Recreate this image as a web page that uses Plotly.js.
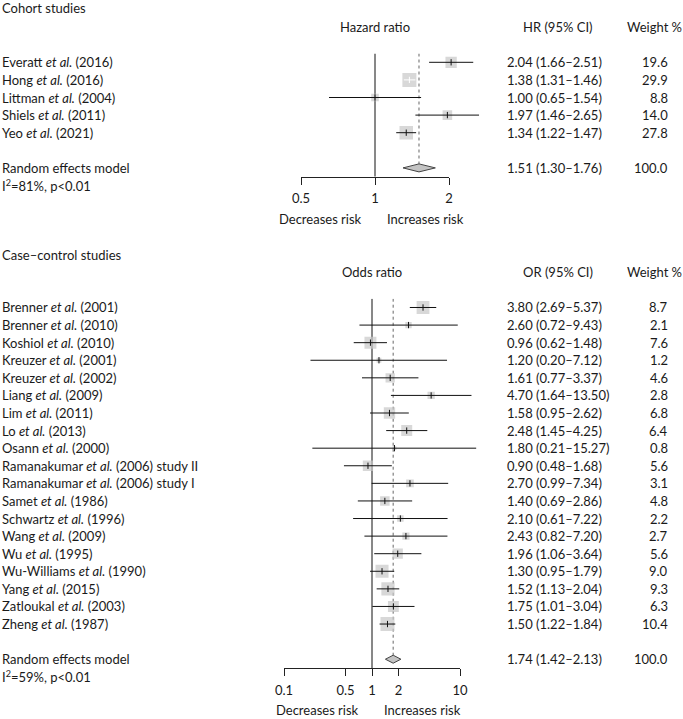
<!DOCTYPE html>
<html>
<head>
<meta charset="utf-8">
<script src="https://cdn.plot.ly/plotly-3.0.1.min.js"></script>
<style>html,body{margin:0;padding:0;background:#fff;}#chart{width:683px;height:719px;}</style>
</head>
<body>
<div id="chart"></div>
<script>
// ---------------- DATA ----------------
const cohortStudies = [
  "Everatt <i>et al.</i> (2016)",
  "Hong <i>et al.</i> (2016)",
  "Littman <i>et al.</i> (2004)",
  "Shiels <i>et al.</i> (2011)",
  "Yeo <i>et al.</i> (2021)"
];
const cohortEst    = [2.04, 1.38, 1.00, 1.97, 1.34];
const cohortLower  = [1.66, 1.31, 0.65, 1.46, 1.22];
const cohortUpper  = [2.51, 1.46, 1.54, 2.65, 1.47];
const cohortWeight = [19.6, 29.9, 8.8, 14.0, 27.8];
const cohortPooled = [1.51, 1.30, 1.76];   // estimate, lower, upper
const cohortPooledWeight = 100.0;
const cohortHet = "I<sup>2</sup>=81%, p&lt;0.01";
const cohortTicks = [0.5, 1, 2];
const cohortTickLabels = ["0.5", "1", "2"];

const ccStudies = [
  "Brenner <i>et al.</i> (2001)",
  "Brenner <i>et al.</i> (2010)",
  "Koshiol <i>et al.</i> (2010)",
  "Kreuzer <i>et al.</i> (2001)",
  "Kreuzer <i>et al.</i> (2002)",
  "Liang <i>et al.</i> (2009)",
  "Lim <i>et al.</i> (2011)",
  "Lo <i>et al.</i> (2013)",
  "Osann <i>et al.</i> (2000)",
  "Ramanakumar <i>et al.</i> (2006) study II",
  "Ramanakumar <i>et al.</i> (2006) study I",
  "Samet <i>et al.</i> (1986)",
  "Schwartz <i>et al.</i> (1996)",
  "Wang <i>et al.</i> (2009)",
  "Wu <i>et al.</i> (1995)",
  "Wu-Williams <i>et al.</i> (1990)",
  "Yang <i>et al.</i> (2015)",
  "Zatloukal <i>et al.</i> (2003)",
  "Zheng <i>et al.</i> (1987)"
];
const ccEst    = [3.80, 2.60, 0.96, 1.20, 1.61, 4.70, 1.58, 2.48, 1.80, 0.90, 2.70, 1.40, 2.10, 2.43, 1.96, 1.30, 1.52, 1.75, 1.50];
const ccLower  = [2.69, 0.72, 0.62, 0.20, 0.77, 1.64, 0.95, 1.45, 0.21, 0.48, 0.99, 0.69, 0.61, 0.82, 1.06, 0.95, 1.13, 1.01, 1.22];
const ccUpper  = [5.37, 9.43, 1.48, 7.12, 3.37, 13.50, 2.62, 4.25, 15.27, 1.68, 7.34, 2.86, 7.22, 7.20, 3.64, 1.79, 2.04, 3.04, 1.84];
const ccWeight = [8.7, 2.1, 7.6, 1.2, 4.6, 2.8, 6.8, 6.4, 0.8, 5.6, 3.1, 4.8, 2.2, 2.7, 5.6, 9.0, 9.3, 6.3, 10.4];
const ccPooled = [1.74, 1.42, 2.13];
const ccPooledWeight = 100.0;
const ccHet = "I<sup>2</sup>=59%, p&lt;0.01";
const ccTicks = [0.1, 0.5, 1, 2, 10];
const ccTickLabels = ["0.1", "0.5", "1", "2", "10"];

// ---------------- STYLE / LAYOUT ----------------
const W = 683, H = 719;
const FONT = "Lato, 'Open Sans', sans-serif";
const FS = 13;
const TXT = "#1a1a1a";
const BOX = "#c8c8c8";
const MAXBOX = 14;       // px side of largest box
const DIAM_HALF = 4;     // px half height of diamond

const traces = [];
const annotations = [];
const layout = {
  width: W, height: H,
  margin: {l: 0, r: 0, t: 0, b: 0},
  paper_bgcolor: "#fff", plot_bgcolor: "rgba(0,0,0,0)",
  showlegend: false,
  font: {family: FONT, size: FS, color: TXT},
  annotations: annotations
};

function L10(v) { return Math.log10(v); }

function panel(cfg) {
  const n = cfg.studies.length;
  const rowPx = (cfg.axisPx - cfg.topPx) / (n + 2);   // rows 0.5 .. n+2.5
  const rowToPx = r => cfg.topPx + (r - 0.5) * rowPx;
  const scale = (cfg.visPx[1] - cfg.visPx[0]) / (L10(cfg.visRange[1]) - L10(cfg.visRange[0]));
  const dPx0 = cfg.visPx[0] + (L10(cfg.dataRange[0]) - L10(cfg.visRange[0])) * scale;
  const dPx1 = cfg.visPx[0] + (L10(cfg.dataRange[1]) - L10(cfg.visRange[0])) * scale;
  const xv = cfg.xVis, xd = cfg.xData, ya = cfg.y;
  const xvKey = "xaxis" + xv.slice(1), xdKey = "xaxis" + xd.slice(1), yKey = "yaxis" + ya.slice(1);

  layout[yKey] = {
    range: [n + 2.5, 0.5], domain: [1 - cfg.axisPx / H, 1 - cfg.topPx / H],
    visible: false, fixedrange: true
  };
  layout[xvKey] = {
    type: "log", range: [L10(cfg.visRange[0]), L10(cfg.visRange[1])],
    domain: [cfg.visPx[0] / W, cfg.visPx[1] / W], anchor: ya,
    showline: true, linecolor: "#222", linewidth: 1,
    ticks: "outside", ticklen: 7, tickwidth: 1, tickcolor: "#222",
    tickmode: "array", tickvals: cfg.ticks, ticktext: cfg.tickLabels,
    showgrid: false, zeroline: false, fixedrange: true,
    tickfont: {family: FONT, size: FS, color: TXT}, ticklabelstandoff: 3
  };
  layout[xdKey] = {
    type: "log", range: [L10(cfg.dataRange[0]), L10(cfg.dataRange[1])],
    domain: [dPx0 / W, dPx1 / W], anchor: ya, visible: false, fixedrange: true
  };

  const rows = cfg.studies.map((_, i) => i + 1);
  const pooledRow = n + 2;
  const dh = DIAM_HALF / rowPx;
  const wmax = Math.max.apply(null, cfg.weight);
  const sizes = cfg.weight.map(w => MAXBOX * Math.sqrt(w / wmax));

  // reference line at 1 (on visible axis)
  traces.push({x: [1, 1], y: [0.5, n + 2.5], xaxis: xv, yaxis: ya, mode: "lines",
    line: {color: "#111", width: 1}, hoverinfo: "skip"});
  // dotted line at pooled estimate
  traces.push({x: [cfg.pooled[0], cfg.pooled[0]], y: [0.5, pooledRow - dh], xaxis: xd, yaxis: ya,
    mode: "lines", line: {color: "#666", width: 1, dash: "dot"}, hoverinfo: "skip"});
  // boxes
  traces.push({x: cfg.est, y: rows, xaxis: xd, yaxis: ya, mode: "markers",
    marker: {symbol: "square", size: sizes, color: BOX, line: {width: 0}}, hoverinfo: "skip"});
  // CI lines
  const bx = [], by = [], wx = [], wy = [], tickCol = [];
  cfg.est.forEach((e, i) => {
    const half = sizes[i] / 2;
    const dl = (L10(e) - L10(cfg.lower[i])) * scale;
    const du = (L10(cfg.upper[i]) - L10(e)) * scale;
    const inside = dl < half && du < half;
    if (inside) { wx.push(cfg.lower[i], cfg.upper[i], null); wy.push(rows[i], rows[i], null); }
    else { bx.push(cfg.lower[i], cfg.upper[i], null); by.push(rows[i], rows[i], null); }
    tickCol.push(inside ? "#ffffff" : "#111111");
  });
  traces.push({x: bx, y: by, xaxis: xd, yaxis: ya, mode: "lines", line: {color: "#111", width: 1}, hoverinfo: "skip"});
  traces.push({x: wx, y: wy, xaxis: xd, yaxis: ya, mode: "lines", line: {color: "#fff", width: 1}, hoverinfo: "skip"});
  // estimate ticks
  traces.push({x: cfg.est, y: rows, xaxis: xd, yaxis: ya, mode: "markers",
    marker: {symbol: "line-ns-open", size: 4.5, color: tickCol, line: {width: 1, color: tickCol}}, hoverinfo: "skip"});
  // pooled diamond
  const p = cfg.pooled;
  traces.push({x: [p[1], p[0], p[2], p[0], p[1]], y: [pooledRow, pooledRow - dh, pooledRow, pooledRow + dh, pooledRow],
    xaxis: xd, yaxis: ya, mode: "lines", fill: "toself", fillcolor: "#c4c4c4",
    line: {color: "#444", width: 1}, hoverinfo: "skip"});

  // ---- text (paper coordinates derived from row positions) ----
  const ann = (text, xpx, row, anchor) => annotations.push({
    text: text, xref: "paper", yref: "paper", x: xpx / W, y: 1 - rowToPx(row) / H,
    xanchor: anchor, yanchor: "middle",
    showarrow: false, font: {family: FONT, size: FS, color: TXT}
  });
  const onePx = cfg.visPx[0] + (0 - L10(cfg.visRange[0])) * scale;
  const centerPx = (cfg.visPx[0] + cfg.visPx[1]) / 2;

  ann(cfg.title, 0, cfg.titleRow, "left");
  ann(cfg.effectLabel, centerPx, -1, "center");
  ann(cfg.ciLabel, 558, -1, "center");
  ann("Weight %", 625, -1, "left");
  cfg.studies.forEach((s, i) => {
    ann(s, 0, rows[i], "left");
    ann(cfg.est[i].toFixed(2) + " (" + cfg.lower[i].toFixed(2) + "–" + cfg.upper[i].toFixed(2) + ")", 505, rows[i], "left");
    ann(cfg.weight[i].toFixed(1), 670, rows[i], "right");
  });
  ann("Random effects model", 0, pooledRow, "left");
  ann(p[0].toFixed(2) + " (" + p[1].toFixed(2) + "–" + p[2].toFixed(2) + ")", 505, pooledRow, "left");
  ann(cfg.pooledWeight.toFixed(1), 670, pooledRow, "right");
  ann(cfg.het, 0, pooledRow + 1, "left");
  const sideRow = n + 2.5 + 42 / rowPx;
  ann("Decreases risk", onePx - 11, sideRow, "right");
  ann("Increases risk", onePx + 10, sideRow, "left");
}

panel({
  studies: cohortStudies, est: cohortEst, lower: cohortLower, upper: cohortUpper, weight: cohortWeight,
  pooled: cohortPooled, pooledWeight: cohortPooledWeight, het: cohortHet,
  ticks: cohortTicks, tickLabels: cohortTickLabels,
  title: "Cohort studies", titleRow: -2.1, effectLabel: "Hazard ratio", ciLabel: "HR (95% CI)",
  xVis: "x", xData: "x2", y: "y",
  visPx: [301, 449], visRange: [0.5, 2], dataRange: [0.3, 3.5],
  topPx: 53.5, axisPx: 176.7
});
panel({
  studies: ccStudies, est: ccEst, lower: ccLower, upper: ccUpper, weight: ccWeight,
  pooled: ccPooled, pooledWeight: ccPooledWeight, het: ccHet,
  ticks: ccTicks, tickLabels: ccTickLabels,
  title: "Case–control studies", titleRow: -2.0, effectLabel: "Odds ratio", ciLabel: "OR (95% CI)",
  xVis: "x3", xData: "x4", y: "y2",
  visPx: [284, 460], visRange: [0.1, 10], dataRange: [0.05, 25],
  topPx: 298.7, axisPx: 668
});

Plotly.newPlot("chart", traces, layout, {staticPlot: true, displayModeBar: false});
</script>
</body>
</html>
